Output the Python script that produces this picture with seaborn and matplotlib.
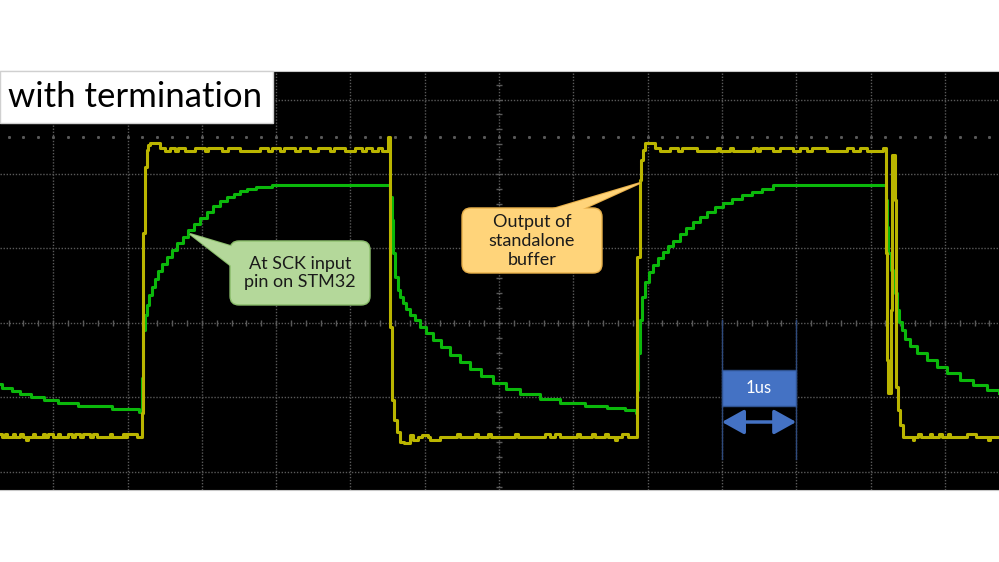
import matplotlib
matplotlib.use("Agg")
import matplotlib.pyplot as plt
from matplotlib.patches import FancyBboxPatch, Polygon, Rectangle, FancyArrowPatch
import numpy as np
import seaborn as sns

# scope traces: time in us (0 = screen centre), level in divisions
yellow_pts = [
    (-6.72, -1.49), (-6.69, -1.53), (-6.65, -1.49), (-6.62, -1.53), (-6.54, -1.49),
    (-6.51, -1.53), (-6.45, -1.49), (-6.41, -1.53), (-6.37, -1.57), (-6.34, -1.53),
    (-6.27, -1.49), (-6.25, -1.53), (-6.14, -1.49), (-6.11, -1.53), (-6.07, -1.49),
    (-6.00, -1.53), (-5.94, -1.49), (-5.91, -1.53), (-5.80, -1.49), (-5.75, -1.53),
    (-5.71, -1.49), (-5.64, -1.53), (-5.60, -1.49), (-5.51, -1.53), (-5.46, -1.49),
    (-5.41, -1.53), (-5.24, -1.49), (-5.21, -1.53), (-5.06, -1.49), (-5.03, -1.53),
    (-5.01, -1.49), (-4.87, -1.53),
    (-4.80, -1.21), (-4.79, 1.21), (-4.77, 2.09), (-4.74, 2.32), (-4.72, 2.39),
    (-4.70, 2.42), (-4.56, 2.35),
    (-4.50, 2.31), (-4.43, 2.35), (-4.36, 2.31), (-4.32, 2.35), (-4.23, 2.31),
    (-4.09, 2.35), (-3.96, 2.31), (-3.92, 2.35), (-3.73, 2.31), (-3.65, 2.35),
    (-3.49, 2.31), (-3.22, 2.35), (-3.11, 2.31), (-3.06, 2.35), (-2.95, 2.31),
    (-2.89, 2.35), (-2.75, 2.31), (-2.68, 2.35), (-2.54, 2.31), (-2.44, 2.35),
    (-2.28, 2.31), (-2.22, 2.35), (-2.07, 2.31), (-1.94, 2.35), (-1.84, 2.31),
    (-1.79, 2.35), (-1.71, 2.31), (-1.63, 2.35), (-1.58, 2.31),
    (-1.50, 2.50), (-1.47, -0.05), (-1.44, -1.03), (-1.41, -1.30), (-1.37, -1.46),
    (-1.33, -1.60), (-1.28, -1.61), (-1.20, -1.51), (-1.16, -1.57), (-1.09, -1.53),
    (-1.04, -1.51), (-0.96, -1.53), (-0.93, -1.57), (-0.79, -1.53),
    (-0.57, -1.49), (-0.53, -1.53), (-0.32, -1.49), (-0.28, -1.53), (-0.15, -1.49),
    (-0.11, -1.53), (0.22, -1.49), (0.26, -1.53), (0.62, -1.49), (0.69, -1.53),
    (0.75, -1.49), (0.82, -1.53), (1.05, -1.49), (1.09, -1.53), (1.25, -1.49),
    (1.29, -1.53), (1.43, -1.49), (1.47, -1.53), (1.56, -1.57), (1.59, -1.53),
    (1.66, -1.49), (1.74, -1.53),
    (1.86, 0.89), (1.90, 1.92), (1.91, 2.19), (1.94, 2.32), (1.97, 2.42), (2.10, 2.35),
    (2.17, 2.31), (2.30, 2.35), (2.41, 2.31), (2.46, 2.35), (2.67, 2.31), (2.93, 2.35),
    (2.97, 2.31), (3.11, 2.35), (3.15, 2.31), (3.42, 2.35), (3.47, 2.31), (3.51, 2.35),
    (3.69, 2.31), (3.78, 2.35), (3.96, 2.31), (4.05, 2.35), (4.15, 2.31), (4.21, 2.35),
    (4.42, 2.31), (4.68, 2.35), (4.76, 2.31), (4.86, 2.35), (4.95, 2.31), (5.17, 2.35),
    (5.21, 0.94), (5.22, -0.50), (5.24, -0.94), (5.28, 0.17), (5.29, 2.26), (5.33, 1.65),
    (5.34, -0.86), (5.37, -1.17), (5.40, -1.37), (5.44, -1.53),
    (5.57, -1.57), (5.59, -1.53), (5.64, -1.49), (5.68, -1.53), (5.80, -1.49),
    (5.83, -1.53), (5.92, -1.49), (5.96, -1.53), (6.04, -1.49), (6.07, -1.53),
    (6.30, -1.49), (6.42, -1.53), (6.58, -1.57), (6.61, -1.53), (6.73, -1.53),
]

green_pts = [
    (-6.72, -0.82), (-6.69, -0.87), (-6.55, -0.91), (-6.45, -0.95), (-6.30, -0.99),
    (-6.12, -1.03), (-5.94, -1.07), (-5.67, -1.11), (-5.21, -1.15), (-4.84, -1.19),
    (-4.81, -0.74), (-4.79, -0.09), (-4.76, 0.11), (-4.74, 0.24), (-4.71, 0.38),
    (-4.67, 0.48), (-4.63, 0.59), (-4.59, 0.70), (-4.54, 0.79), (-4.47, 0.89),
    (-4.40, 0.98), (-4.33, 1.07), (-4.25, 1.15), (-4.19, 1.25), (-4.11, 1.33),
    (-4.02, 1.41), (-3.93, 1.49), (-3.85, 1.57), (-3.76, 1.64), (-3.66, 1.69),
    (-3.57, 1.73), (-3.49, 1.77), (-3.39, 1.80), (-3.27, 1.83), (-3.06, 1.85),
    (-1.47, 1.69), (-1.44, 1.38), (-1.43, 0.94), (-1.40, 0.62), (-1.36, 0.44),
    (-1.33, 0.35), (-1.29, 0.27), (-1.25, 0.19), (-1.20, 0.11), (-1.13, 0.04),
    (-1.06, -0.05), (-0.98, -0.13), (-0.89, -0.23), (-0.78, -0.32), (-0.66, -0.43),
    (-0.53, -0.52), (-0.39, -0.62), (-0.24, -0.71), (-0.08, -0.81), (0.09, -0.89),
    (0.28, -0.95), (0.55, -1.02), (0.82, -1.07), (1.16, -1.11), (1.45, -1.14),
    (1.70, -1.17), (1.84, -1.21),
    (1.86, -0.90), (1.87, -0.40), (1.90, 0.04), (1.92, 0.35), (1.97, 0.55),
    (2.02, 0.68), (2.07, 0.78), (2.14, 0.87), (2.21, 0.95), (2.28, 1.03),
    (2.34, 1.10), (2.44, 1.19), (2.52, 1.28), (2.61, 1.36), (2.71, 1.42),
    (2.80, 1.49), (2.91, 1.56), (3.02, 1.61), (3.14, 1.66), (3.27, 1.72),
    (3.41, 1.76), (3.54, 1.80), (3.69, 1.85),
    (5.21, 1.65), (5.22, 1.29), (5.24, 0.94), (5.28, 0.71), (5.30, 0.58),
    (5.33, 0.40), (5.36, 0.17), (5.38, 0.01), (5.42, -0.09), (5.46, -0.21),
    (5.53, -0.31), (5.63, -0.40), (5.76, -0.50), (5.90, -0.59), (6.03, -0.67),
    (6.21, -0.77), (6.38, -0.83), (6.57, -0.90), (6.73, -0.94),
]

yellow_t, yellow_v = zip(*yellow_pts)
green_t, green_v = zip(*green_pts)

title_text = "with termination"
green_label = "At SCK input\npin on STM32"
orange_label = "Output of\nstandalone\nbuffer"
scale_label = "1us"

grid_c = "#5a5a5a"
yellow_c = "#bab500"
green_c = "#0bb80b"

fig = plt.figure(figsize=(9.99, 5.62), dpi=100)
fig.patch.set_facecolor("white")
ax = fig.add_axes([0, 0.1281, 1, 0.7456])
ax.set_facecolor("black")
ax.set_xlim(-6.716, 6.729)
ax.set_ylim(-2.242, 3.383)
ax.set_xticks([])
ax.set_yticks([])
for side in ["left", "right"]:
    ax.spines[side].set_visible(False)
for side in ["top", "bottom"]:
    ax.spines[side].set_color("#c8c8c8")
    ax.spines[side].set_linewidth(0.8)

# graticule
for t in range(-6, 7):
    ax.axvline(t, color=grid_c, lw=1, ls=(0, (1, 1.2)), zorder=1)
for v in range(-2, 4):
    ax.axhline(v, color=grid_c, lw=1, ls=(0, (1, 1.2)), zorder=1)
minor_t = np.arange(-6.6, 6.8, 0.2)
minor_v = np.arange(-2.2, 3.4, 0.2)
ax.plot(minor_t, np.zeros_like(minor_t), ls="none", marker="|", ms=4, mew=1,
        color=grid_c, zorder=1)
ax.plot(np.zeros_like(minor_v), minor_v, ls="none", marker="_", ms=4, mew=1,
        color=grid_c, zorder=1)
ax.plot(minor_t, np.full_like(minor_t, 2.5), ls="none", marker="s", ms=1.1,
        color=grid_c, zorder=1)

# traces
sns.lineplot(x=list(green_t), y=list(green_v), ax=ax, color=green_c, lw=2.2,
             drawstyle="steps-post", estimator=None, sort=False, zorder=3)
sns.lineplot(x=list(yellow_t), y=list(yellow_v), ax=ax, color=yellow_c, lw=2.2,
             drawstyle="steps-post", estimator=None, sort=False, zorder=4)

# title box
ax.add_patch(Rectangle((-6.716, 2.685), 3.674, 0.70, facecolor="white",
                       edgecolor="#d0d0d0", lw=1, zorder=10, clip_on=False))
ax.text(-6.61, 3.03, title_text, fontsize=25, family="Lato", va="center",
        ha="left", color="black", zorder=11)


def callout(x0, y0, w, h, tail, fc, ec, text, tx, ty):
    ax.add_patch(Polygon(tail, closed=True, fc=fc, ec=ec, lw=1.5, zorder=8))
    ax.add_patch(FancyBboxPatch((x0, y0), w, h,
                                boxstyle="round,pad=0,rounding_size=0.12",
                                fc=fc, ec=ec, lw=1, zorder=9))
    ax.add_patch(Polygon(tail, closed=True, fc=fc, ec="none", zorder=10))
    ax.text(tx, ty, text, fontsize=13, family="Lato", ha="center", va="center",
            color="#1a1a1a", linespacing=1.2, zorder=11)


callout(-3.62, 0.242, 1.884, 0.859,
        [(-4.159, 1.195), (-3.57, 1.02), (-3.57, 0.74)],
        "#b4d89a", "#8cbf6c", green_label, -2.678, 0.671)
callout(-0.498, 0.671, 1.884, 0.873,
        [(1.898, 1.879), (0.62, 1.50), (1.06, 1.50)],
        "#ffd47a", "#e8b04a", orange_label, 0.444, 1.101)

# 1us scale marker
ax.plot([3.0, 3.0], [0.04, -1.826], color="#2e4a7d", lw=1, zorder=5)
ax.plot([4.0, 4.0], [0.04, -1.826], color="#2e4a7d", lw=1, zorder=5)
ax.add_patch(Rectangle((3.0, -1.114), 1.0, 0.483, fc="#4472c4", ec="#2f528f",
                       lw=1, zorder=9))
ax.text(3.5, -0.872, scale_label, fontsize=12, family="Lato", color="white",
        ha="center", va="center", zorder=10)
ax.add_patch(FancyArrowPatch((3.0, -1.329), (4.0, -1.329),
                             arrowstyle="<|-|>,head_length=0.9,head_width=0.5",
                             mutation_scale=15, lw=2.5, color="#4472c4",
                             shrinkA=0, shrinkB=0, zorder=9))

fig.savefig("out.png", dpi=100, facecolor="white")
